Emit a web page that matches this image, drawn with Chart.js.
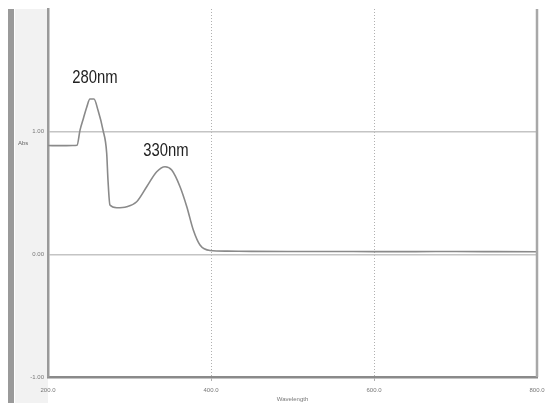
<!DOCTYPE html>
<html>
<head>
<meta charset="utf-8">
<script src="https://cdn.jsdelivr.net/npm/chart.js@4/dist/chart.umd.min.js"></script>
<style>
  html, body { margin: 0; padding: 0; background: #ffffff; }
  #wrap { width: 545px; height: 403px; }
</style>
</head>
<body>
<div id="wrap"><canvas id="c" width="545" height="403"></canvas></div>
<script>
// Wavelength (nm) and absorbance
const wavelengths = [200, 215, 230, 235.6, 239.3, 243.5, 247.5, 251.5, 256.4, 261.3, 267.5, 272, 273.6, 276, 284.3, 296.6, 308.8, 321.1, 333.4, 343.6, 351.8, 362, 370.3, 378.3, 386.5, 398.8, 420, 450, 500, 550, 600, 650, 700, 750, 800];
const absorbance  = [0.887, 0.886, 0.887, 0.889, 1.013, 1.11, 1.20, 1.266, 1.266, 1.176, 1.013, 0.826, 0.606, 0.402, 0.380, 0.388, 0.429, 0.551, 0.673, 0.714, 0.687, 0.551, 0.388, 0.198, 0.076, 0.031, 0.026, 0.024, 0.023, 0.023, 0.022, 0.022, 0.023, 0.022, 0.021];
const xTicks = [200, 400, 600, 800];
const yTicks = [-1, 0, 1, 2];
const peakLabels = ["280nm", "330nm"];
const peakLabelPos = [[257.7, 1.40], [344.8, 0.80]];

const framePlugin = {
  id: 'frame',
  beforeDraw(chart) {
    const ctx = chart.ctx, a = chart.chartArea;
    ctx.save();
    ctx.fillStyle = '#ffffff';
    ctx.fillRect(0, 0, chart.width, chart.height);
    ctx.fillStyle = '#f2f2f2';
    ctx.fillRect(15, a.top, a.left - 15, chart.height - a.top);
    ctx.fillStyle = '#9a9a9a';
    ctx.fillRect(8, a.top, 6, chart.height - a.top);
    ctx.restore();
  },
  afterDraw(chart) {
    const ctx = chart.ctx, a = chart.chartArea;
    ctx.save();
    ctx.strokeStyle = '#a8a8a8';
    ctx.lineWidth = 2.5;
    ctx.beginPath();
    ctx.moveTo(a.right, a.top);
    ctx.lineTo(a.right, a.bottom);
    ctx.stroke();
    ctx.fillStyle = '#666';
    ctx.font = '6px "Liberation Sans", Arial, sans-serif';
    ctx.textAlign = 'left';
    ctx.textBaseline = 'middle';
    ctx.fillText('Abs', 18, 143);
    const xs = chart.scales.x, ys = chart.scales.y;
    ctx.fillStyle = '#222';
    ctx.font = '19px "Liberation Sans", Arial, sans-serif';
    ctx.textAlign = 'center';
    ctx.textBaseline = 'alphabetic';
    peakLabels.forEach((t, i) => {
      const px = xs.getPixelForValue(peakLabelPos[i][0]);
      const py = ys.getPixelForValue(peakLabelPos[i][1]);
      ctx.save();
      ctx.translate(px, py);
      ctx.scale(0.78, 1);
      ctx.fillText(t, 0, 0);
      ctx.restore();
    });
    ctx.restore();
  }
};

new Chart(document.getElementById('c'), {
  type: 'line',
  data: {
    datasets: [{
      data: wavelengths.map((w, i) => ({ x: w, y: absorbance[i] })),
      borderColor: '#8a8a8a',
      borderWidth: 1.6,
      pointRadius: 0,
      fill: false,
      cubicInterpolationMode: 'monotone'
    }]
  },
  options: {
    responsive: false,
    animation: false,
    layout: { padding: { top: 9, right: 8, left: 0, bottom: 0 } },
    plugins: { legend: { display: false }, tooltip: { enabled: false } },
    scales: {
      x: {
        type: 'linear',
        min: 200, max: 800,
        afterBuildTicks: s => { s.ticks = xTicks.map(v => ({ value: v })); },
        afterFit: s => { s.height = 26; s.paddingLeft = 0; s.paddingRight = 0; },
        ticks: {
          color: '#777', font: { size: 6, family: '"Liberation Sans", Arial, sans-serif' },
          padding: 6, maxRotation: 0, autoSkip: false,
          callback: v => v.toFixed(1)
        },
        grid: {
          color: ctx => (ctx.tick && (ctx.tick.value === 400 || ctx.tick.value === 600)) ? '#b0b0b0' : 'rgba(0,0,0,0)',
          lineWidth: 1, drawTicks: true, tickLength: 4
        },
        border: { display: true, color: '#8a8a8a', width: 2.5, dash: [1, 2] },
        title: { display: true, text: 'Wavelength', color: '#777', font: { size: 6, family: '"Liberation Sans", Arial, sans-serif' }, padding: { top: 2, bottom: 0 } }
      },
      y: {
        type: 'linear',
        min: -1, max: 2,
        afterBuildTicks: s => { s.ticks = yTicks.map(v => ({ value: v })); },
        afterFit: s => { s.width = 48; s.paddingTop = 0; s.paddingBottom = 0; },
        ticks: {
          color: '#777', font: { size: 6, family: '"Liberation Sans", Arial, sans-serif' },
          padding: 4,
          callback: v => v === 2 ? '' : v.toFixed(2)
        },
        grid: {
          color: ctx => (ctx.tick && (ctx.tick.value === 0 || ctx.tick.value === 1)) ? '#c4c4c4' : 'rgba(0,0,0,0)',
          lineWidth: 1.5, drawTicks: false
        },
        border: { display: true, color: '#9a9a9a', width: 2.5 }
      }
    }
  },
  plugins: [framePlugin]
});
</script>
</body>
</html>
